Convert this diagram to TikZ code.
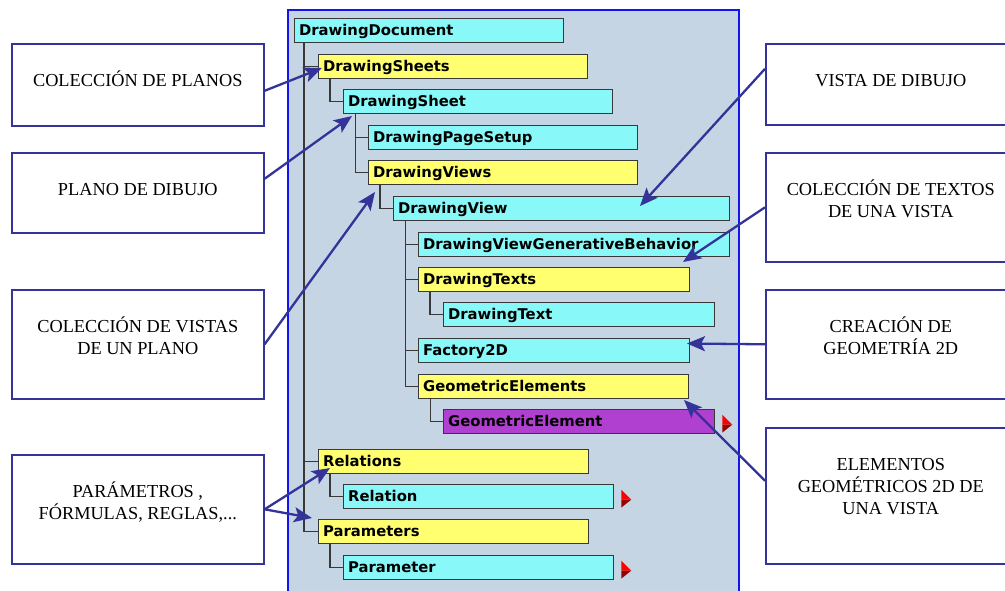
\documentclass[tikz,border=0pt]{standalone}
\usepackage{fontspec}
\setmainfont{Liberation Serif}
\newfontfamily\treefont{DejaVu Sans}
\usetikzlibrary{arrows.meta}
\definecolor{panelfill}{HTML}{C6D5E4}
\definecolor{panelblue}{HTML}{1414F0}
\definecolor{navy}{HTML}{333399}
\definecolor{tcyan}{HTML}{88F8F8}
\definecolor{tyellow}{HTML}{FFFF70}
\definecolor{tpurple}{HTML}{B040D0}
\definecolor{tline}{HTML}{383838}
\definecolor{darkred}{HTML}{990000}
\newcommand\moretri[1]{%
  \fill[red] (#1.east) ++(7,-7) -- ++(10,10) -- ++(-10,0) -- cycle;
  \fill[darkred] (#1.east) ++(7,3) -- ++(10,0) -- ++(-10,8) -- cycle;}
\begin{document}
\begin{tikzpicture}[x=1pt,y=-1pt,
  tb/.style={draw=tline, line width=1.3pt, anchor=north west, minimum height=24pt,
    inner xsep=4.5pt, inner ysep=0pt, text height=12pt, text depth=2pt, align=left,
    font=\treefont\bfseries\fontsize{14.8}{17}\selectfont},
  cy/.style={tb, fill=tcyan},
  ye/.style={tb, fill=tyellow},
  pu/.style={tb, fill=tpurple},
  tree/.style={draw=tline, line width=1.3pt},
  callout/.style={draw=navy, line width=1.6pt, fill=white, anchor=north west, inner sep=0pt},
  ctext/.style={anchor=north, inner sep=0pt, align=center, font=\fontsize{18.3}{22}\selectfont},
  arr/.style={draw=navy, line width=2.3pt, -{Stealth[length=18pt,width=15pt,inset=4pt]}}
]
\clip (0,0) rectangle (1005,591);
\fill[white] (0,0) rectangle (1005,591);
% panel
\draw[panelblue, line width=2pt, fill=panelfill] (288,10) rectangle (739,620);

% tree boxes
\node[cy, text width=260pt] (doc) at (294,18) {DrawingDocument};
\node[ye, text width=260pt] (sheets) at (318,54) {DrawingSheets};
\node[cy, text width=260pt] (sheet) at (343,89) {DrawingSheet};
\node[cy, text width=260pt] (setup) at (368,125) {DrawingPageSetup};
\node[ye, text width=260pt] (views) at (368,160) {DrawingViews};
\node[cy, text width=327pt] (view) at (393,196) {DrawingView};
\node[cy, text width=302pt] (genb) at (418,232) {DrawingViewGenerativeBehavior};
\node[ye, text width=262pt] (texts) at (418,267) {DrawingTexts};
\node[cy, text width=262pt] (text) at (443,302) {DrawingText};
\node[cy, text width=262pt] (fact) at (418,338) {Factory2D};
\node[ye, text width=261pt] (gels) at (418,374) {GeometricElements};
\node[pu, text width=262pt] (gel) at (443,409) {GeometricElement};
\node[ye, text width=261pt] (rels) at (318,449) {Relations};
\node[cy, text width=261pt] (rel) at (343,484) {Relation};
\node[ye, text width=261pt] (params) at (318,519) {Parameters};
\node[cy, text width=261pt] (param) at (343,555) {Parameter};

% tree lines
\draw[tree] (doc.south west) ++(10,0) |- (sheets.west);
\draw[tree] (doc.south west) ++(10,0) |- (rels.west);
\draw[tree] (doc.south west) ++(10,0) |- (params.west);
\draw[tree] (sheets.south west) ++(12,0) |- (sheet.west);
\draw[tree] (sheet.south west) ++(12.5,0) |- (setup.west);
\draw[tree] (sheet.south west) ++(12.5,0) |- (views.west);
\draw[tree] (views.south west) ++(12,0) |- (view.west);
\draw[tree] (view.south west) ++(12.5,0) |- (genb.west);
\draw[tree] (view.south west) ++(12.5,0) |- (texts.west);
\draw[tree] (view.south west) ++(12.5,0) |- (fact.west);
\draw[tree] (view.south west) ++(12.5,0) |- (gels.west);
\draw[tree] (texts.south west) ++(12,0) |- (text.west);
\draw[tree] (gels.south west) ++(12.5,0) |- (gel.west);
\draw[tree] (rels.south west) ++(12,0) |- (rel.west);
\draw[tree] (params.south west) ++(12,0) |- (param.west);

\moretri{gel}
\moretri{rel}
\moretri{param}

% callouts left
\node[callout, minimum width=252pt, minimum height=82pt] (cp) at (11,43) {};
\node[ctext] (cpt) at ([yshift=-23pt]cp.north) {\rule{0pt}{20pt}COLECCIÓN DE PLANOS};
\node[callout, minimum width=252pt, minimum height=80pt] (pd) at (11,152) {};
\node[ctext] (pdt) at ([yshift=-23pt]pd.north) {\rule{0pt}{20pt}PLANO DE DIBUJO};
\node[callout, minimum width=252pt, minimum height=109pt] (cv) at (11,289) {};
\node[ctext] (cvt) at ([yshift=-23pt]cv.north) {\rule{0pt}{20pt}COLECCIÓN DE VISTAS\\DE UN PLANO};
\node[callout, minimum width=252pt, minimum height=109pt] (pf) at (11,454) {};
\node[ctext] (pft) at ([yshift=-23pt]pf.north) {\rule{0pt}{20pt}PARÁMETROS ,\\FÓRMULAS, REGLAS,...};
% callouts right
\node[callout, minimum width=250pt, minimum height=81pt] (vd) at (765,43) {};
\node[ctext] (vdt) at ([yshift=-23pt]vd.north) {\rule{0pt}{20pt}VISTA DE DIBUJO};
\node[callout, minimum width=250pt, minimum height=109pt] (ct) at (765,152) {};
\node[ctext] (ctt) at ([yshift=-23pt]ct.north) {\rule{0pt}{20pt}COLECCIÓN DE TEXTOS\\DE UNA VISTA};
\node[callout, minimum width=250pt, minimum height=109pt] (cg) at (765,289) {};
\node[ctext] (cgt) at ([yshift=-23pt]cg.north) {\rule{0pt}{20pt}CREACIÓN DE\\GEOMETRÍA 2D};
\node[callout, minimum width=250pt, minimum height=136pt] (eg) at (765,427) {};
\node[ctext] (egt) at ([yshift=-23pt]eg.north) {\rule{0pt}{20pt}ELEMENTOS\\GEOMÉTRICOS 2D DE\\UNA VISTA};

% arrow tips
\coordinate (t1) at (322,68);
\coordinate (t2) at (352,116);
\coordinate (t3) at (375,192);
\coordinate (t4) at (640,206);
\coordinate (t5) at (683,262);
\coordinate (t6) at (687,343.5);
\coordinate (t7) at (684,400);
\coordinate (t8) at (330,468);
\coordinate (t9) at (312,518);

\draw[arr] ([yshift=-6pt]cp.east) -- (t1);
\draw[arr] ([yshift=14pt]pd.east) -- (t2);
\draw[arr] (cv.east) -- (t3);
\draw[arr] ([yshift=15.5pt]vd.west) -- (t4);
\draw[arr] (ct.west) -- (t5);
\draw[arr] (cg.west) -- (t6);
\draw[arr] ([yshift=15pt]eg.west) -- (t7);
\draw[arr] (pf.east) -- (t8);
\draw[arr] (pf.east) -- (t9);
\end{tikzpicture}
\end{document}
